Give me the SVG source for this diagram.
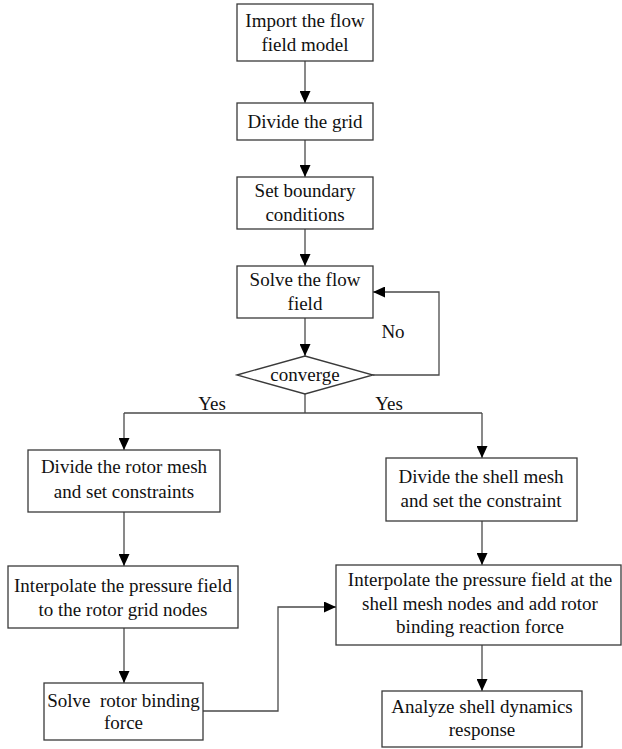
<svg xmlns="http://www.w3.org/2000/svg" width="622" height="749" viewBox="0 0 622 749">
<style>
.box{fill:#ffffff;stroke:#3a3a3a;stroke-width:1.3}
.t{font-family:"Liberation Serif","Times New Roman",serif;font-size:19px;fill:#111;text-anchor:middle}
.c{fill:none;stroke:#4a4a4a;stroke-width:1.3}
.pre{white-space:pre}
</style>
<defs>
<marker id="ah" markerUnits="userSpaceOnUse" markerWidth="12" markerHeight="11" refX="12" refY="5.5" orient="auto">
<path d="M0,0 L12,5.5 L0,11 z" fill="#000"/>
</marker>
</defs>
<rect width="622" height="749" fill="#ffffff"/>
<g id="connectors">
<path class="c" d="M305,61 V103" marker-end="url(#ah)"/>
<path class="c" d="M305,140 V177" marker-end="url(#ah)"/>
<path class="c" d="M305,229 V266" marker-end="url(#ah)"/>
<path class="c" d="M305,318 V356" marker-end="url(#ah)"/>
<path class="c" d="M373,375 H439 V292 H373" marker-end="url(#ah)"/>
<path class="c" d="M305,394 V413"/>
<path class="c" d="M124,413 H482"/>
<path class="c" d="M124,413 V450" marker-end="url(#ah)"/>
<path class="c" d="M482,413 V458" marker-end="url(#ah)"/>
<path class="c" d="M124,512 V566" marker-end="url(#ah)"/>
<path class="c" d="M124,628 V683" marker-end="url(#ah)"/>
<path class="c" d="M203,711 H278 V607 H336" marker-end="url(#ah)"/>
<path class="c" d="M482,521 V565" marker-end="url(#ah)"/>
<path class="c" d="M482,645 V691" marker-end="url(#ah)"/>
<text class="t" x="393" y="338">No</text>
<text class="t" x="212" y="410">Yes</text>
<text class="t" x="389" y="410">Yes</text>
</g>
<g id="import">
<rect class="box" x="237" y="4" width="136" height="57"/>
<text class="t" x="305" y="27">Import the flow</text>
<text class="t" x="305" y="51">field model</text>
</g>
<g id="divide-grid">
<rect class="box" x="237" y="103" width="136" height="37"/>
<text class="t" x="305" y="128">Divide the grid</text>
</g>
<g id="boundary">
<rect class="box" x="237" y="177" width="136" height="52"/>
<text class="t" x="305" y="197">Set boundary</text>
<text class="t" x="305" y="221">conditions</text>
</g>
<g id="solve-flow">
<rect class="box" x="237" y="266" width="136" height="52"/>
<text class="t" x="305" y="286">Solve the flow</text>
<text class="t" x="305" y="310">field</text>
</g>
<g id="converge">
<polygon class="box" points="237,375 305,356 373,375 305,394"/>
<text class="t" x="305" y="381">converge</text>
</g>
<g id="rotor-mesh">
<rect class="box" x="28" y="450" width="192" height="62"/>
<text class="t" x="124" y="473">Divide the rotor mesh</text>
<text class="t" x="124" y="498">and set constraints</text>
</g>
<g id="rotor-interp">
<rect class="box" x="8" y="566" width="230" height="62"/>
<text class="t" x="123" y="592">Interpolate the pressure field</text>
<text class="t" x="123" y="616">to the rotor grid nodes</text>
</g>
<g id="rotor-force">
<rect class="box" x="44" y="683" width="159" height="57"/>
<text class="t pre" x="123.5" y="707">Solve  rotor binding</text>
<text class="t" x="123.5" y="729">force</text>
</g>
<g id="shell-mesh">
<rect class="box" x="386" y="458" width="191" height="63"/>
<text class="t" x="481" y="483">Divide the shell mesh</text>
<text class="t" x="481" y="507">and set the constraint</text>
</g>
<g id="shell-interp">
<rect class="box" x="336" y="565" width="285" height="80"/>
<text class="t" x="480" y="586">Interpolate the pressure field at the</text>
<text class="t" x="480" y="610">shell mesh nodes and add rotor</text>
<text class="t" x="480" y="633">binding reaction force</text>
</g>
<g id="shell-dynamics">
<rect class="box" x="382" y="691" width="200" height="56"/>
<text class="t" x="482" y="713">Analyze shell dynamics</text>
<text class="t" x="482" y="736">response</text>
</g>
</svg>
